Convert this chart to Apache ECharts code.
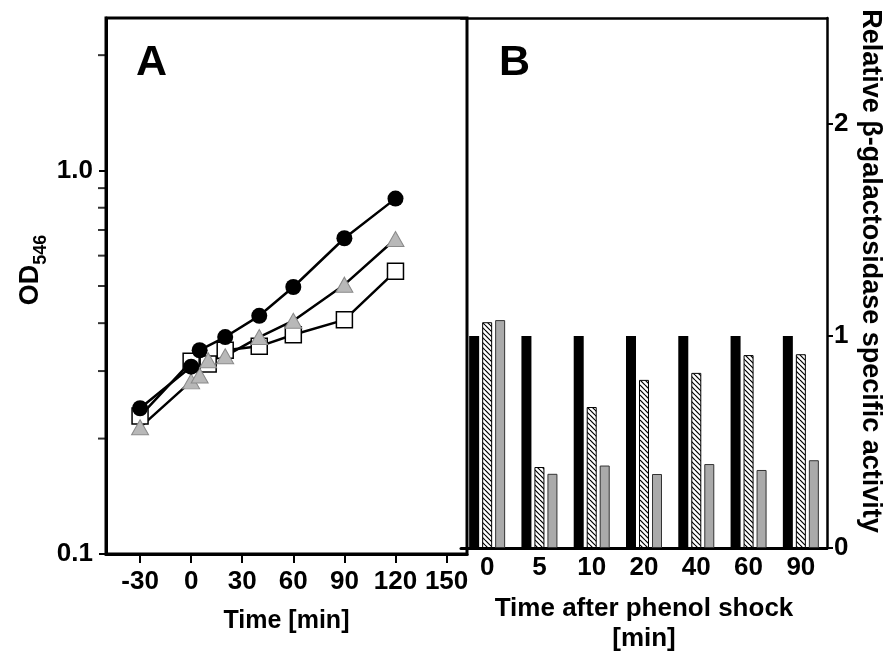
<!DOCTYPE html>
<html>
<head>
<meta charset="utf-8">
<script src="https://cdn.jsdelivr.net/npm/echarts@6/dist/echarts.min.js"></script>
<style>html,body{margin:0;padding:0;background:#fff}#c{width:889px;height:659px}</style>
</head>
<body>
<div id="c"></div>
<script>
// ---- Panel A data (OD546 vs time) ----
const circleTimes = [-30, 0, 5, 20, 40, 60, 90, 120];
const circleOD    = [0.240, 0.308, 0.340, 0.368, 0.418, 0.497, 0.666, 0.845];
const triTimes    = [-30, 0, 5, 10, 20, 40, 60, 90, 120];
const triOD       = [0.214, 0.282, 0.292, 0.320, 0.328, 0.368, 0.406, 0.504, 0.663];
const sqTimes     = [-30, 0, 10, 20, 40, 60, 90, 120];
const sqOD        = [0.229, 0.318, 0.313, 0.340, 0.348, 0.373, 0.408, 0.546];
const xTicksA     = [-30, 0, 30, 60, 90, 120, 150];
const xMinA = -50, xMaxA = 162;
const yMinA = 0.1, yMaxA = 2.5;
const yMajorA     = [0.1, 1];
const yMinorA     = [0.2, 0.3, 0.4, 0.5, 0.6, 0.7, 0.8, 0.9, 2];

// ---- Panel B data (relative beta-galactosidase activity) ----
const shockTimes  = ['0', '5', '10', '20', '40', '60', '90'];
const blackBars   = [1, 1, 1, 1, 1, 1, 1];
const hatchBars   = [1.065, 0.382, 0.665, 0.793, 0.826, 0.910, 0.914];
const grayBars    = [1.075, 0.350, 0.389, 0.349, 0.396, 0.368, 0.414];
const yTicksB     = [0, 1, 2];

const FONT = '"Liberation Sans", Arial, Helvetica, sans-serif';
const pair = (xs, ys) => xs.map((x, i) => [x, ys[i]]);

// hatch pattern (backslash stripes)
const pc = document.createElement('canvas');
const n = 5;
pc.width = n; pc.height = n;
const g = pc.getContext('2d');
g.fillStyle = '#fff'; g.fillRect(0, 0, n, n);
g.strokeStyle = '#000'; g.lineWidth = 1.2;
for (const c of [-n, 0, n]) { g.beginPath(); g.moveTo(0, c); g.lineTo(n, c + n); g.stroke(); }

const chart = echarts.init(document.getElementById('c'), null, {renderer: 'canvas'});
const lab = {color: '#000', fontFamily: FONT, fontWeight: 'bold', fontSize: 26};

chart.setOption({
  animation: false,
  backgroundColor: '#fff',
  title: [
    {text: 'A', left: 131, top: 37, textStyle: {fontFamily: FONT, fontWeight: 'bold', fontSize: 43, color: '#000'}},
    {text: 'B', left: 494, top: 37, textStyle: {fontFamily: FONT, fontWeight: 'bold', fontSize: 43, color: '#000'}}
  ],
  grid: [
    {left: 106, top: 18, width: 361, height: 536, show: true, borderColor: '#000', borderWidth: 3, backgroundColor: 'transparent'},
    {left: 461, top: 18, width: 366, height: 536}
  ],
  xAxis: [
    {type: 'value', gridIndex: 0, min: xMinA, max: xMaxA,
     name: 'Time [min]', nameLocation: 'middle', nameGap: 55,
     nameTextStyle: {color: '#000', fontFamily: FONT, fontWeight: 'bold', fontSize: 25},
     axisLine: {show: true, onZero: false, lineStyle: {color: '#000', width: 3}},
     axisTick: {show: true, inside: false, length: 9, lineStyle: {color: '#000', width: 2}, customValues: xTicksA},
     axisLabel: Object.assign({margin: 15, customValues: xTicksA}, lab),
     splitLine: {show: false}},
    {type: 'category', gridIndex: 1, data: shockTimes,
     name: 'Time after phenol shock\n[min]', nameLocation: 'middle', nameGap: 46,
     nameTextStyle: {color: '#000', fontFamily: FONT, fontWeight: 'bold', fontSize: 26, lineHeight: 30},
     axisLine: {show: true, onZero: false, lineStyle: {color: '#000', width: 3}},
     axisTick: {show: false},
     axisLabel: Object.assign({margin: 7}, lab),
     splitLine: {show: false}},
    {type: 'category', gridIndex: 1, position: 'top', data: shockTimes,
     axisLine: {show: true, onZero: false, lineStyle: {color: '#000', width: 2.5}},
     axisTick: {show: false}, axisLabel: {show: false}, splitLine: {show: false}}
  ],
  yAxis: [
    {type: 'log', logBase: 10, gridIndex: 0, min: yMinA, max: yMaxA,
     name: '{a|OD}{b|546}', nameLocation: 'middle', nameGap: 62, nameRotate: 90,
     nameTextStyle: {color: '#000', padding: [0, 0, 0, 32], rich: {
       a: {fontFamily: FONT, fontWeight: 'bold', fontSize: 27, color: '#000', lineHeight: 34, verticalAlign: 'bottom'},
       b: {fontFamily: FONT, fontWeight: 'bold', fontSize: 18, color: '#000', lineHeight: 34, verticalAlign: 'bottom', padding: [0, 0, -6, 0]}}},
     axisLine: {show: true, onZero: false, lineStyle: {color: '#000', width: 3}},
     axisTick: {show: true, inside: false, length: 7, lineStyle: {color: '#000', width: 2}, customValues: yMajorA},
     axisLabel: Object.assign({margin: 13, customValues: yMajorA, formatter: v => (v >= 1 ? '1.0' : '0.1')}, lab),
     splitLine: {show: false}, minorTick: {show: false}},
    {type: 'value', gridIndex: 1, position: 'right', min: 0, max: 2.5,
     name: 'Relative β-galactosidase specific activity', nameLocation: 'middle', nameGap: 30, nameRotate: -90,
     nameTextStyle: {color: '#000', fontFamily: FONT, fontWeight: 'bold', fontSize: 27, padding: [0, 24, 0, 0]},
     axisLine: {show: true, onZero: false, lineStyle: {color: '#000', width: 2.5}},
     axisTick: {show: true, inside: false, length: 6, lineStyle: {color: '#000', width: 2}, customValues: yTicksB},
     axisLabel: Object.assign({margin: 7, customValues: yTicksB}, lab),
     splitLine: {show: false}}
  ],
  series: [
    // minor log ticks of the OD axis (placed on the axis through the log scale)
    {type: 'scatter', xAxisIndex: 0, yAxisIndex: 0, data: yMinorA.map(v => [xMinA, v]),
     symbol: 'rect', symbolSize: [8, 2], symbolOffset: [-4, 0], clip: false, silent: true, z: 1,
     itemStyle: {color: '#000'}, emphasis: {disabled: true}},
    {type: 'line', xAxisIndex: 0, yAxisIndex: 0, data: pair(sqTimes, sqOD),
     symbol: 'rect', symbolSize: 16, lineStyle: {color: '#000', width: 2.5},
     itemStyle: {color: '#fff', borderColor: '#000', borderWidth: 1.5}},
    {type: 'line', xAxisIndex: 0, yAxisIndex: 0, data: pair(triTimes, triOD),
     symbol: 'triangle', symbolSize: [17, 15], lineStyle: {color: '#000', width: 2.5},
     itemStyle: {color: '#b8b8b8', borderColor: '#8a8a8a', borderWidth: 1}},
    {type: 'line', xAxisIndex: 0, yAxisIndex: 0, data: pair(circleTimes, circleOD),
     symbol: 'circle', symbolSize: 16, lineStyle: {color: '#000', width: 2.5},
     itemStyle: {color: '#000', borderColor: '#000', borderWidth: 0}},
    {type: 'bar', xAxisIndex: 1, yAxisIndex: 1, data: blackBars, barWidth: 10, barGap: '30%',
     itemStyle: {color: '#000'}},
    {type: 'bar', xAxisIndex: 1, yAxisIndex: 1, data: hatchBars, barWidth: 10, barGap: '30%',
     itemStyle: {color: {image: pc, repeat: 'repeat'}, borderColor: '#000', borderWidth: 1}},
    {type: 'bar', xAxisIndex: 1, yAxisIndex: 1, data: grayBars, barWidth: 10, barGap: '30%',
     itemStyle: {color: '#aaaaaa', borderColor: '#333', borderWidth: 1}}
  ]
});
</script>
</body>
</html>
